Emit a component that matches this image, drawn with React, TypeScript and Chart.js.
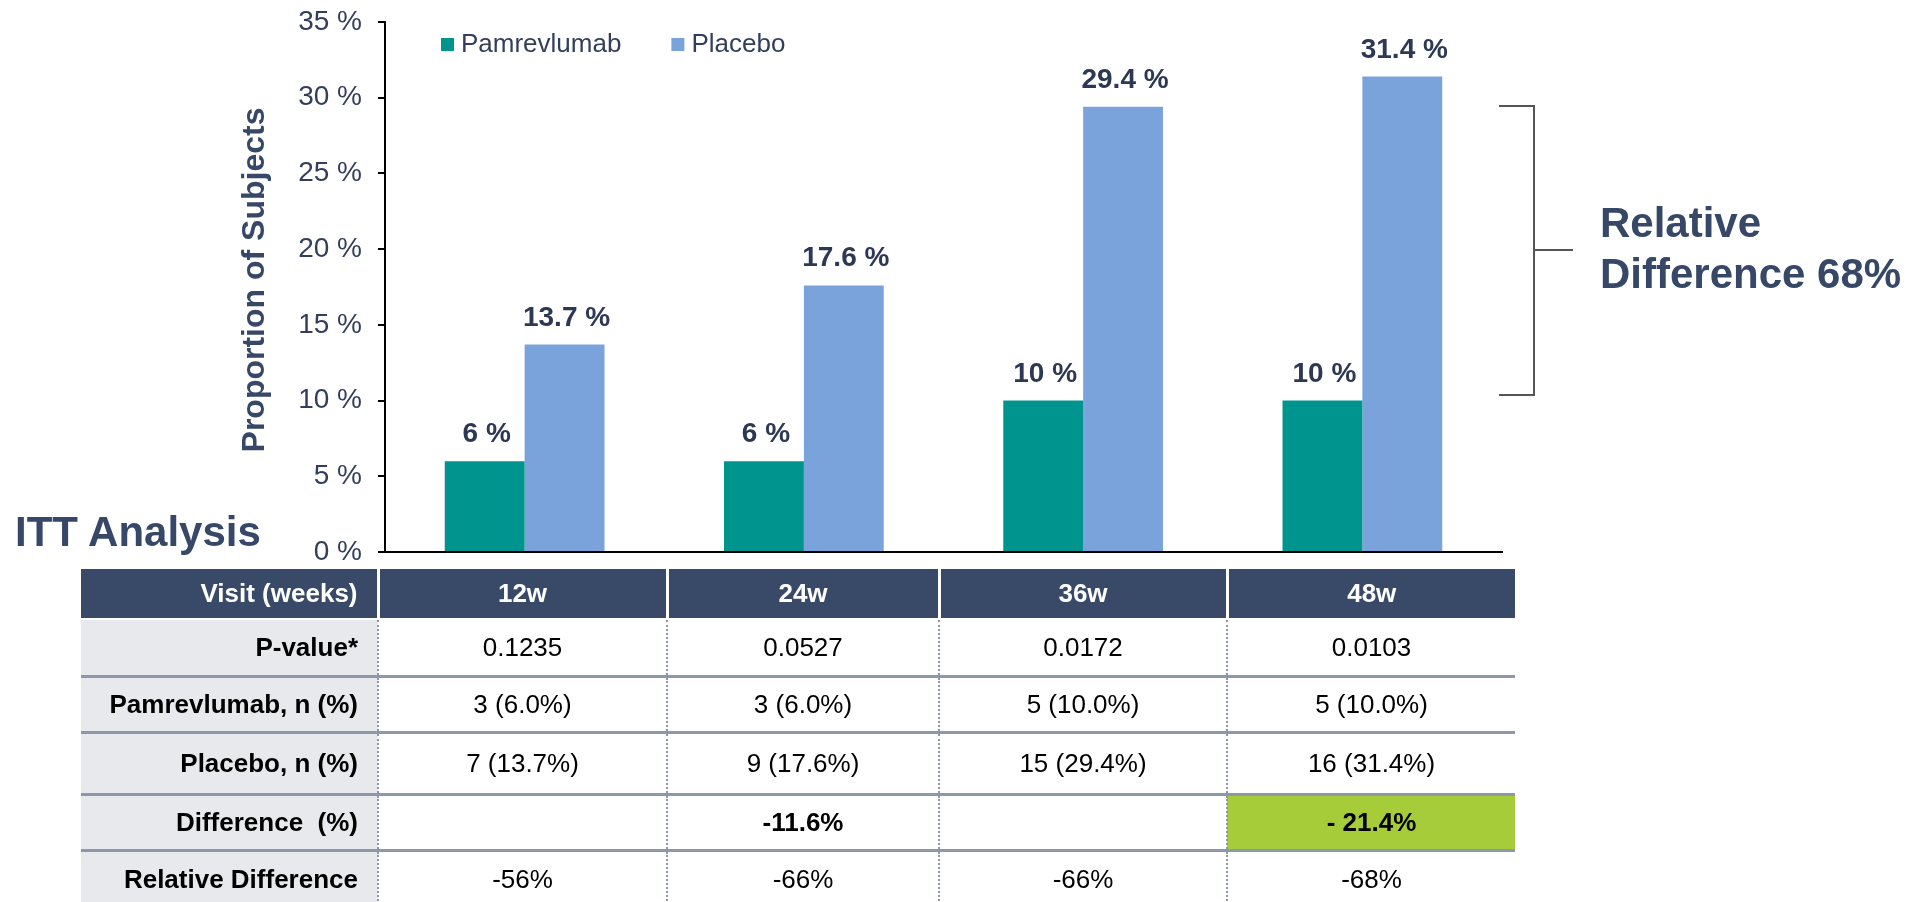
import React, { useEffect, useRef } from "react";
import { Chart, registerables } from "chart.js";

Chart.register(...registerables);

// ---------- data ----------
const categories = ["12w", "24w", "36w", "48w"];
const pamrevlumabPct = [6, 6, 10, 10];
const placeboPct = [13.7, 17.6, 29.4, 31.4];
const seriesNames = ["Pamrevlumab", "Placebo"];
const yMin = 0;
const yMax = 35;
const yStep = 5;

const headerCells = ["Visit (weeks)", "12w", "24w", "36w", "48w"];
const rowLabels = ["P-value*", "Pamrevlumab, n (%)", "Placebo, n (%)", "Difference  (%)", "Relative Difference"];
const pValues = ["0.1235", "0.0527", "0.0172", "0.0103"];
const pamrevlumabN = ["3 (6.0%)", "3 (6.0%)", "5 (10.0%)", "5 (10.0%)"];
const placeboN = ["7 (13.7%)", "9 (17.6%)", "15 (29.4%)", "16 (31.4%)"];
const differencePct = ["", "-11.6%", "", "- 21.4%"];
const relativeDiff = ["-56%", "-66%", "-66%", "-68%"];

const sectionTitle = "ITT Analysis";
const yTitle = "Proportion of Subjects";
const annotationLines = ["Relative", "Difference 68%"];

// ---------- styles ----------
const FONT = "'Liberation Sans', Arial, sans-serif";
const TEAL = "#00948f";
const BLUE = "#7ba3db";
const NAVY = "#374767";
const TICK_COLOR = "#333f5a";
const LABEL_COLOR = "#2c3854";
const HEADER_BG = "#394a68";
const LABEL_BG = "#e8e9ed";
const RULE = "#8e98ab";
const GREEN = "#a6cd39";

const colWidths = [297, 289, 272, 288, 288];
const rowHeights = [57, 56, 62, 56, 58];

const customDraw = {
  id: "customDraw",
  afterDatasetsDraw(chart: any) {
    const ctx = chart.ctx;
    ctx.save();
    ctx.font = `bold 28px ${FONT}`;
    ctx.fillStyle = LABEL_COLOR;
    ctx.textAlign = "center";
    ctx.textBaseline = "alphabetic";
    chart.data.datasets.forEach((ds: any, di: number) => {
      const meta = chart.getDatasetMeta(di);
      meta.data.forEach((el: any, i: number) => {
        ctx.fillText(`${ds.data[i]} %`, el.x + 2, el.y - 19);
      });
    });
    ctx.restore();
  },
  afterDraw(chart: any) {
    const ctx = chart.ctx;
    ctx.save();
    // legend
    ctx.font = `26px ${FONT}`;
    ctx.textBaseline = "alphabetic";
    ctx.textAlign = "left";
    let x = 441;
    chart.data.datasets.forEach((ds: any) => {
      ctx.fillStyle = ds.backgroundColor;
      ctx.fillRect(x, 38, 13, 13);
      ctx.fillStyle = TICK_COLOR;
      ctx.fillText(ds.label, x + 20, 52);
      x += 20 + ctx.measureText(ds.label).width + 50;
    });
    // y title
    ctx.translate(255, 280);
    ctx.rotate(-Math.PI / 2);
    ctx.font = `bold 32px ${FONT}`;
    ctx.fillStyle = NAVY;
    ctx.textAlign = "center";
    ctx.textBaseline = "middle";
    ctx.fillText(yTitle, 0, 0);
    ctx.restore();
  },
};

function ChartCanvas() {
  const ref = useRef<HTMLCanvasElement | null>(null);
  useEffect(() => {
    if (!ref.current) return;
    const chart = new Chart(ref.current, {
      type: "bar",
      data: {
        labels: categories,
        datasets: [
          { label: seriesNames[0], data: pamrevlumabPct, backgroundColor: TEAL, categoryPercentage: 0.572, barPercentage: 1 },
          { label: seriesNames[1], data: placeboPct, backgroundColor: BLUE, categoryPercentage: 0.572, barPercentage: 1 },
        ],
      },
      options: {
        responsive: false,
        animation: false,
        layout: { padding: { left: 0, right: 425, top: 22, bottom: 33 } },
        plugins: { legend: { display: false }, tooltip: { enabled: false } },
        scales: {
          x: {
            ticks: { display: false },
            grid: { display: false },
            border: { display: true, color: "#000", width: 2 },
            afterFit: (s: any) => { s.height = 0; },
          },
          y: {
            min: yMin,
            max: yMax,
            ticks: {
              stepSize: yStep,
              padding: 16,
              color: TICK_COLOR,
              font: { family: FONT, size: 28 },
              callback: (v: any) => `${v} %`,
            },
            grid: { drawOnChartArea: false, drawTicks: true, tickLength: 7, color: "#000", lineWidth: 2 },
            border: { display: true, color: "#000", width: 2 },
            afterFit: (s: any) => { s.width = 385; s.paddingTop = 0; s.paddingBottom = 0; },
          },
        },
      },
      plugins: [customDraw],
    });
    return () => chart.destroy();
  }, []);
  return <canvas ref={ref} width={1927} height={585} style={{ position: "absolute", left: 0, top: 0 }} />;
}

export default function App() {
  const rows = [pValues, pamrevlumabN, placeboN, differencePct, relativeDiff];
  return (
    <div style={{ position: "absolute", left: 0, top: 0, width: 1927, height: 902, overflow: "hidden", background: "#fff", fontFamily: FONT }}>
      <ChartCanvas />
      <div style={{ position: "absolute", left: 15, top: 508, fontSize: 42, fontWeight: "bold", color: NAVY, lineHeight: "48px" }}>{sectionTitle}</div>
      {/* bracket */}
      <div style={{ position: "absolute", left: 1499, top: 105, width: 34, height: 287, borderTop: "2px solid #555", borderBottom: "2px solid #555", borderRight: "2px solid #555" }} />
      <div style={{ position: "absolute", left: 1535, top: 249, width: 38, height: 0, borderTop: "2px solid #555" }} />
      <div style={{ position: "absolute", left: 1600, top: 197, fontSize: 42, fontWeight: "bold", color: NAVY, lineHeight: "51px" }}>
        {annotationLines.map((t, i) => <div key={i}>{t}</div>)}
      </div>
      <table style={{ position: "absolute", left: 81, top: 569, borderCollapse: "collapse", tableLayout: "fixed", width: colWidths.reduce((a, b) => a + b, 0), fontSize: 26 }}>
        <colgroup>
          {colWidths.map((w, i) => <col key={i} style={{ width: w }} />)}
        </colgroup>
        <tbody>
          <tr style={{ height: 50 }}>
            {headerCells.map((h, i) => (
              <th key={i} style={{ background: HEADER_BG, color: "#fff", fontWeight: "bold", padding: 0, paddingRight: i === 0 ? 19 : 0, textAlign: i === 0 ? "right" : "center", borderLeft: i === 0 ? "none" : "3px solid #fff", borderBottom: "2px solid #fff" }}>{h}</th>
            ))}
          </tr>
          {rows.map((r, ri) => (
            <tr key={ri} style={{ height: rowHeights[ri] }}>
              <td style={{ background: LABEL_BG, color: "#000", fontWeight: "bold", textAlign: "right", paddingRight: 19, whiteSpace: "pre", borderTop: ri === 0 ? "none" : `3px solid ${RULE}` }}>{rowLabels[ri]}</td>
              {r.map((v, ci) => {
                const isDiff = ri === 3;
                const highlight = isDiff && ci === 3;
                return (
                  <td key={ci} style={{ textAlign: "center", color: "#000", padding: 0, fontWeight: isDiff ? "bold" : "normal", background: highlight ? GREEN : "#fff", borderLeft: `2px dotted ${RULE}`, borderTop: ri === 0 ? "none" : `3px solid ${RULE}` }}>{v}</td>
                );
              })}
            </tr>
          ))}
        </tbody>
      </table>
    </div>
  );
}
